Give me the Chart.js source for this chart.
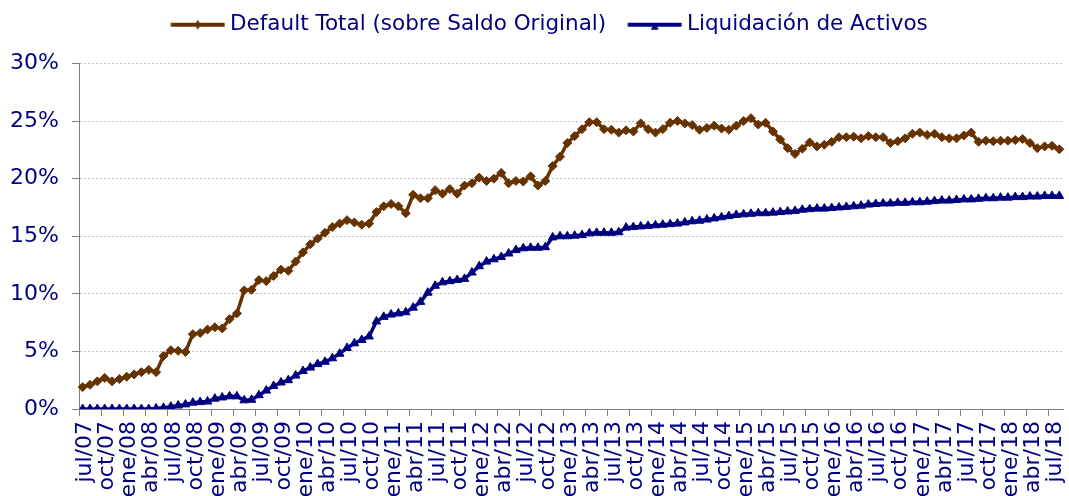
<!DOCTYPE html>
<html>
<head>
<meta charset="utf-8">
<script src="https://cdn.jsdelivr.net/npm/chart.js@4/dist/chart.umd.min.js"></script>
<style>
html,body{margin:0;padding:0;background:#ffffff;}
#wrap{width:1069px;height:496px;}
</style>
</head>
<body>
<div id="wrap"><canvas id="c" width="1069" height="496"></canvas></div>
<script>
// Categories (monthly, jul/07 .. ago/18)
const categories = [
  'jul/07','ago/07','sep/07','oct/07','nov/07','dic/07',
  'ene/08','feb/08','mar/08','abr/08','may/08','jun/08','jul/08','ago/08','sep/08','oct/08','nov/08','dic/08',
  'ene/09','feb/09','mar/09','abr/09','may/09','jun/09','jul/09','ago/09','sep/09','oct/09','nov/09','dic/09',
  'ene/10','feb/10','mar/10','abr/10','may/10','jun/10','jul/10','ago/10','sep/10','oct/10','nov/10','dic/10',
  'ene/11','feb/11','mar/11','abr/11','may/11','jun/11','jul/11','ago/11','sep/11','oct/11','nov/11','dic/11',
  'ene/12','feb/12','mar/12','abr/12','may/12','jun/12','jul/12','ago/12','sep/12','oct/12','nov/12','dic/12',
  'ene/13','feb/13','mar/13','abr/13','may/13','jun/13','jul/13','ago/13','sep/13','oct/13','nov/13','dic/13',
  'ene/14','feb/14','mar/14','abr/14','may/14','jun/14','jul/14','ago/14','sep/14','oct/14','nov/14','dic/14',
  'ene/15','feb/15','mar/15','abr/15','may/15','jun/15','jul/15','ago/15','sep/15','oct/15','nov/15','dic/15',
  'ene/16','feb/16','mar/16','abr/16','may/16','jun/16','jul/16','ago/16','sep/16','oct/16','nov/16','dic/16',
  'ene/17','feb/17','mar/17','abr/17','may/17','jun/17','jul/17','ago/17','sep/17','oct/17','nov/17','dic/17',
  'ene/18','feb/18','mar/18','abr/18','may/18','jun/18','jul/18','ago/18'
];

// Series values (%)
const defaultTotal = [
  1.9,2.1,2.4,2.7,2.4,2.6,2.8,3.0,3.2,3.4,
  3.2,4.6,5.1,5.05,4.95,6.5,6.6,6.9,7.1,7.0,
  7.8,8.3,10.3,10.35,11.2,11.1,11.55,12.1,12.0,12.8,
  13.6,14.3,14.8,15.3,15.8,16.1,16.4,16.2,16.0,16.1,
  17.1,17.6,17.8,17.6,17.0,18.6,18.3,18.3,19.0,18.7,
  19.1,18.7,19.4,19.6,20.1,19.8,20.0,20.5,19.6,19.8,
  19.75,20.2,19.4,19.8,21.1,21.9,23.1,23.7,24.3,24.9,
  24.9,24.3,24.25,24.0,24.2,24.1,24.8,24.3,24.0,24.3,
  24.85,25.0,24.8,24.65,24.25,24.4,24.6,24.35,24.25,24.6,
  25.0,25.25,24.7,24.85,24.1,23.4,22.65,22.15,22.6,23.15,
  22.8,22.95,23.2,23.6,23.6,23.65,23.5,23.7,23.6,23.6,
  23.1,23.25,23.5,23.9,24.0,23.8,23.9,23.6,23.5,23.5,
  23.75,24.0,23.2,23.3,23.25,23.3,23.3,23.35,23.45,23.1,
  22.65,22.8,22.85,22.55
];

const liquidacion = [
  0,0,0,0,0,0,0,0,0,0,
  0.05,0.1,0.2,0.3,0.4,0.55,0.6,0.65,0.9,1.0,
  1.1,1.1,0.75,0.8,1.2,1.6,2.0,2.3,2.5,2.9,
  3.3,3.6,3.9,4.1,4.4,4.8,5.3,5.7,6.0,6.3,
  7.6,8.0,8.2,8.3,8.4,8.8,9.3,10.1,10.7,11.0,
  11.1,11.2,11.3,11.85,12.4,12.8,13.0,13.2,13.5,13.8,
  13.95,14.0,14.0,14.05,14.9,15.0,15.0,15.05,15.1,15.25,
  15.3,15.3,15.3,15.35,15.75,15.8,15.85,15.9,15.95,16.0,
  16.05,16.1,16.2,16.3,16.35,16.45,16.55,16.65,16.75,16.85,
  16.9,16.95,17.0,17.0,17.05,17.1,17.15,17.2,17.3,17.35,
  17.4,17.4,17.45,17.5,17.55,17.6,17.65,17.75,17.8,17.85,
  17.85,17.9,17.9,17.95,17.95,18.0,18.05,18.1,18.1,18.15,
  18.2,18.2,18.25,18.3,18.3,18.35,18.35,18.4,18.4,18.45,
  18.45,18.5,18.5,18.5
];

const seriesNames = ['Default Total (sobre Saldo Original)', 'Liquidación de Activos'];
const seriesColors = ['#663300', '#000080'];
const yTicks = [0, 5, 10, 15, 20, 25, 30];

const FONT = 'DejaVu Sans';
const FSIZE = 22;
const LEGEND_FSIZE = 21.5;
const TEXT = '#000080';

function legendIcon(color, kind) {
  const c = document.createElement('canvas');
  c.width = 68; c.height = 14;
  const g = c.getContext('2d');
  g.strokeStyle = color; g.lineWidth = 4;
  g.beginPath(); g.moveTo(13.5, 7); g.lineTo(67.5, 7); g.stroke();
  g.fillStyle = color;
  const cx = 40.5, cy = 7;
  g.beginPath();
  if (kind === 'diamond') {
    g.moveTo(cx, cy - 5); g.lineTo(cx + 3, cy); g.lineTo(cx, cy + 5); g.lineTo(cx - 3, cy);
  } else {
    g.moveTo(cx, cy - 2); g.lineTo(cx + 4, cy + 5); g.lineTo(cx - 4, cy + 5);
  }
  g.closePath(); g.fill();
  return c;
}
const icons = [legendIcon(seriesColors[0], 'diamond'), legendIcon(seriesColors[1], 'triangle')];

const legendSpacer = {
  id: 'legendSpacer',
  beforeInit(chart) {
    const orig = chart.legend.fit;
    chart.legend.fit = function () { orig.call(this); this.height += 18; };
  },
  afterLayout(chart) {
    chart.legend.left += 12;
    chart.legend.right += 12;
  }
};

new Chart(document.getElementById('c'), {
  type: 'line',
  data: {
    labels: categories,
    datasets: [
      {
        label: seriesNames[0], data: defaultTotal,
        borderColor: seriesColors[0], backgroundColor: seriesColors[0],
        borderWidth: 3.5, tension: 0, fill: false,
        pointStyle: 'rectRot', pointRadius: 4.5, pointBorderWidth: 1,
        pointBackgroundColor: seriesColors[0], pointBorderColor: seriesColors[0]
      },
      {
        label: seriesNames[1], data: liquidacion,
        borderColor: seriesColors[1], backgroundColor: seriesColors[1],
        borderWidth: 3.5, tension: 0, fill: false,
        pointStyle: 'triangle', pointRadius: 5, pointBorderWidth: 1,
        pointBackgroundColor: seriesColors[1], pointBorderColor: seriesColors[1]
      }
    ]
  },
  options: {
    responsive: false,
    animation: false,
    devicePixelRatio: 1,
    layout: { padding: { left: 0, right: 2, top: 0, bottom: 0 } },
    plugins: {
      tooltip: { enabled: false },
      legend: {
        display: true,
        position: 'top',
        labels: {
          usePointStyle: true,
          pointStyleWidth: 56,
          padding: 14,
          color: TEXT,
          font: { family: FONT, size: LEGEND_FSIZE },
          generateLabels(chart) {
            const items = Chart.defaults.plugins.legend.labels.generateLabels(chart);
            items.forEach((it, i) => { it.pointStyle = icons[i]; it.fontColor = TEXT; });
            return items;
          }
        }
      }
    },
    scales: {
      x: {
        type: 'category',
        offset: true,
        grid: {
          offset: true,
          drawOnChartArea: false,
          drawTicks: true,
          tickLength: 7,
          tickWidth: 1,
          tickColor: (ctx) => (ctx.index % 3 === 0 ? '#808080' : 'rgba(0,0,0,0)'),
          color: 'rgba(0,0,0,0)'
        },
        border: { display: true, color: '#808080', width: 1 },
        ticks: {
          autoSkip: false,
          maxRotation: 90,
          minRotation: 90,
          padding: 5,
          labelOffset: 3,
          color: TEXT,
          font: { family: FONT, size: FSIZE },
          callback: function (v, i) { return i % 3 === 0 ? this.getLabelForValue(v) : ''; }
        },
        afterFit: (s) => { s.height = 87; s.paddingRight = 0; s.paddingLeft = 0; }
      },
      y: {
        min: 0, max: 30,
        afterBuildTicks: (s) => { s.ticks = yTicks.map(v => ({ value: v })); },
        grid: {
          color: '#c0c0c0',
          lineWidth: 1,
          drawTicks: true,
          tickLength: 7,
          tickColor: '#808080',
          tickBorderDash: []
        },
        border: { display: true, color: '#808080', width: 1, dash: [2, 2] },
        ticks: {
          padding: 13,
          color: TEXT,
          font: { family: FONT, size: FSIZE },
          callback: (v) => v + '%'
        },
        afterFit: (s) => { s.width = 79; }
      }
    }
  },
  plugins: [legendSpacer]
});
</script>
</body>
</html>
